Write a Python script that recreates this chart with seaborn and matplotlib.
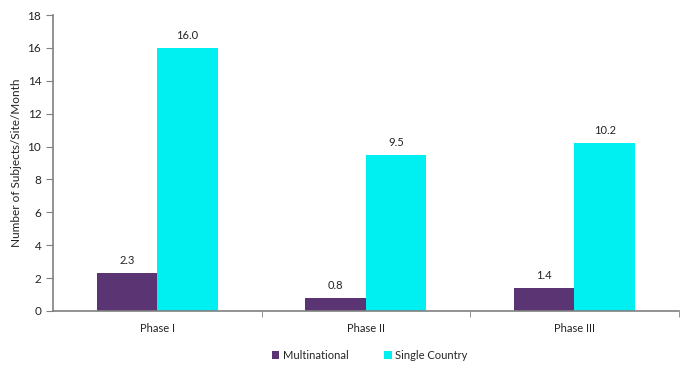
import numpy as np
import pandas as pd
import matplotlib
matplotlib.use("Agg")
import matplotlib.pyplot as plt
import seaborn as sns

## Data
phases = ["Phase I", "Phase II", "Phase III"]
multinational = [2.3, 0.8, 1.4]
single_country = [16.0, 9.5, 10.2]
series_names = ["Multinational", "Single Country"]
colors = ["#5B3573", "#00F0F2"]

sns.set_style("white")
plt.rcParams["font.family"] = ["Lato", "DejaVu Sans"]

df = pd.DataFrame({
    "Phase": phases * 2,
    "Series": [series_names[0]] * 3 + [series_names[1]] * 3,
    "Value": multinational + single_country,
})

fig = plt.figure(figsize=(6.94, 3.76), dpi=100)
ax = fig.add_axes([0.0764, 0.173, 0.9016, 0.787])

sns.barplot(data=df, x="Phase", y="Value", hue="Series", order=phases,
            hue_order=series_names, palette=colors, width=0.58, gap=0,
            saturation=1, linewidth=0, ax=ax, legend=True)

# value labels
for container in ax.containers:
    ax.bar_label(container, fmt="%.1f", padding=5, fontsize=8, color="#222222")

ax.set_ylim(0, 18)
ax.set_yticks(np.arange(0, 19, 2))
ax.set_xlim(-0.5, 2.5)
ax.set_xlabel("")
ax.set_ylabel("Number of Subjects/Site/Month", fontsize=8.5, color="#222222")

# Excel-like axes
for side in ["top", "right"]:
    ax.spines[side].set_visible(False)
for side in ["left", "bottom"]:
    ax.spines[side].set_color("#808080")
    ax.spines[side].set_linewidth(1.2)
ax.tick_params(axis="y", direction="out", length=5, color="#808080",
               labelsize=8.5, labelcolor="#222222", left=True)
ax.tick_params(axis="x", which="major", length=0, labelsize=8, labelcolor="#222222", pad=9)
ax.set_xticks([0.5, 1.5, 2.5], minor=True)
ax.tick_params(axis="x", which="minor", direction="out", length=4, color="#808080", bottom=True)

handles, labels = ax.get_legend_handles_labels()
ax.legend(handles, labels, loc="center", bbox_to_anchor=(0.506, -0.15), ncol=2,
          frameon=False, fontsize=8, handlelength=0.7, handleheight=0.7,
          handletextpad=0.3, columnspacing=3.2, borderaxespad=0)

fig.savefig("out.png", dpi=100)
